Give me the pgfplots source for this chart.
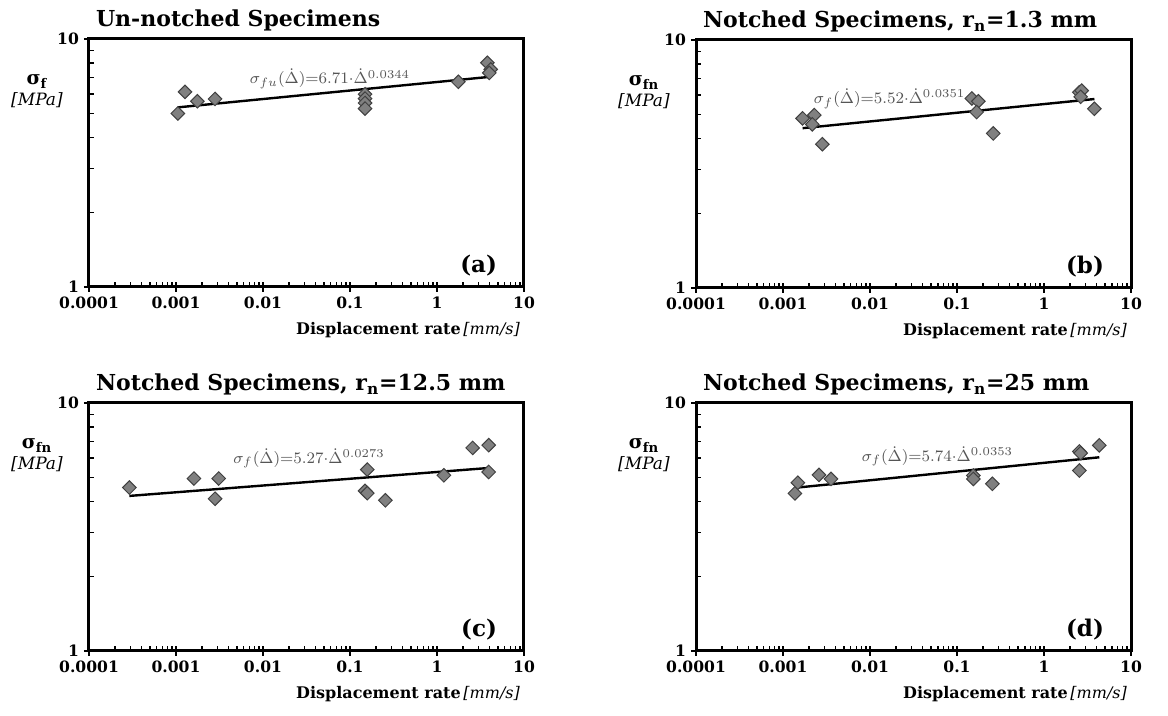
\documentclass[border=0pt]{standalone}
\usepackage{fontspec}
\setmainfont{DejaVu Serif}
\usepackage{pgfplots}
\pgfplotsset{compat=1.18}

\definecolor{mkfill}{RGB}{128,128,128}
\definecolor{mkedge}{RGB}{64,64,64}
\definecolor{eqgray}{RGB}{85,85,85}

% settings shared by the four panels
\pgfplotsset{
  xmin=1e-4, xmax=10, ymin=1, ymax=10,
  width=217.5pt, height=124pt, scale only axis,
  clip=false,
  axis line style={line width=1.5pt},
  xtick={1e-4,1e-3,1e-2,1e-1,1,10},
  xticklabels={0.0001,0.001,0.01,0.1,1,10},
  minor xtick={2e-4,3e-4,4e-4,5e-4,6e-4,7e-4,8e-4,9e-4,
               2e-3,3e-3,4e-3,5e-3,6e-3,7e-3,8e-3,9e-3,
               2e-2,3e-2,4e-2,5e-2,6e-2,7e-2,8e-2,9e-2,
               0.2,0.3,0.4,0.5,0.6,0.7,0.8,0.9,
               2,3,4,5,6,7,8,9},
  ytick={1,10}, yticklabels={1,10},
  minor ytick={2,3,4,5,6,7,8,9},
  xtick pos=left, ytick pos=left,
  tick align=inside,
  major tick length=5pt, minor tick length=2.5pt,
  major tick style={black, line width=1pt},
  minor tick style={black, line width=0.8pt},
  major x tick style={yshift=-2.5pt},
  major y tick style={xshift=-2.5pt},
  tick label style={font=\bfseries\fontsize{7.8}{9}\selectfont},
  xticklabel style={yshift=-1.5pt},
  yticklabel style={xshift=-1.5pt},
  pts/.style={only marks, mark=square*, mark size=2.4pt,
    mark options={rotate=45, fill=mkfill, draw=mkedge, line width=0.5pt}},
  fitline/.style={black, line width=1.2pt, no marks},
}
\newcommand{\ptitle}[1]{\node[anchor=base west, font=\bfseries\fontsize{11}{13}\selectfont]
  at ([xshift=0pt,yshift=6pt]rel axis cs:0,1) {#1};}
\newcommand{\plabel}[1]{\node[anchor=base east, font=\bfseries\fontsize{11.5}{13}\selectfont]
  at ([xshift=-10pt,yshift=7pt]rel axis cs:1,0) {#1};}
\newcommand{\pxlabel}{\node[anchor=base east, font=\fontsize{8}{9}\selectfont]
  at ([xshift=1.5pt,yshift=-24pt]rel axis cs:1,0) {\textbf{Displacement rate}\,\textit{[mm/s]}};}
\newcommand{\pylabel}[1]{\node[align=center, font=\fontsize{8.5}{10.5}\selectfont]
  at ([xshift=-26pt]rel axis cs:0,0.79) {\textbf{\fontsize{9.5}{10.5}\selectfont σ\textsubscript{#1}}\\\textit{[MPa]}};}
\newcommand{\peq}[1]{{\color{eqgray}\fontsize{8}{9}\selectfont #1}}

\begin{document}
\begin{tikzpicture}
\useasboundingbox (0,0) rectangle (584pt,358pt);

% (a)
\begin{loglogaxis}[anchor=south west, at={(44.5pt,214.5pt)}]
  \addplot[pts] coordinates {
    (1.05e-3,5.01) (1.27e-3,6.12) (1.76e-3,5.61) (2.81e-3,5.73)
    (0.149,5.99) (0.149,5.75) (0.149,5.52) (0.149,5.24)
    (1.76,6.72) (3.79,8.02) (4.14,7.54) (3.99,7.30)};
  \addplot[fitline] coordinates {(1.05e-3,5.30) (4.1,7.04)};
  \node at (rel axis cs:0.554,0.838)
    {\peq{$\sigma_{fu}(\dot{\Delta}){=}6.71{\cdot}\dot{\Delta}^{0.0344}$}};
  \ptitle{Un-notched Specimens}
  \plabel{(a)}
  \pxlabel
  \pylabel{f}
\end{loglogaxis}

% (b)
\begin{loglogaxis}[anchor=south west, at={(348pt,214pt)}]
  \addplot[pts] coordinates {
    (1.68e-3,4.83) (2.29e-3,4.98) (2.17e-3,4.57) (2.83e-3,3.80)
    (0.148,5.81) (0.176,5.66) (0.168,5.12) (0.261,4.20)
    (2.55,6.15) (2.71,6.25) (2.64,5.90) (3.79,5.28)};
  \addplot[fitline] coordinates {(1.68e-3,4.41) (3.8,5.78)};
  \node at (rel axis cs:0.445,0.764)
    {\peq{$\sigma_{f}(\dot{\Delta}){=}5.52{\cdot}\dot{\Delta}^{0.0351}$}};
  \ptitle{Notched Specimens, r\textsubscript{n}=1.3 mm}
  \plabel{(b)}
  \pxlabel
  \pylabel{fn}
\end{loglogaxis}

% (c)
\begin{loglogaxis}[anchor=south west, at={(44.5pt,32.5pt)}]
  \addplot[pts] coordinates {
    (2.91e-4,4.56) (1.61e-3,4.96) (3.10e-3,4.96) (2.81e-3,4.11)
    (0.158,5.39) (0.149,4.42) (0.158,4.33) (0.255,4.05)
    (1.20,5.11) (2.57,6.59) (3.93,6.76) (3.93,5.27)};
  \addplot[fitline] coordinates {(2.91e-4,4.22) (3.93,5.47)};
  \node at (rel axis cs:0.506,0.777)
    {\peq{$\sigma_{f}(\dot{\Delta}){=}5.27{\cdot}\dot{\Delta}^{0.0273}$}};
  \ptitle{Notched Specimens, r\textsubscript{n}=12.5 mm}
  \plabel{(c)}
  \pxlabel
  \pylabel{fn}
\end{loglogaxis}

% (d)
\begin{loglogaxis}[anchor=south west, at={(348pt,32.5pt)}]
  \addplot[pts] coordinates {
    (1.37e-3,4.32) (1.48e-3,4.77) (2.59e-3,5.13) (3.56e-3,4.94)
    (0.154,5.10) (0.154,4.94) (0.255,4.72)
    (2.55,6.38) (2.64,6.28) (2.55,5.34) (4.32,6.75)};
  \addplot[fitline] coordinates {(1.37e-3,4.55) (4.32,6.04)};
  \node at (rel axis cs:0.555,0.785)
    {\peq{$\sigma_{f}(\dot{\Delta}){=}5.74{\cdot}\dot{\Delta}^{0.0353}$}};
  \ptitle{Notched Specimens, r\textsubscript{n}=25 mm}
  \plabel{(d)}
  \pxlabel
  \pylabel{fn}
\end{loglogaxis}
\end{tikzpicture}
\end{document}
